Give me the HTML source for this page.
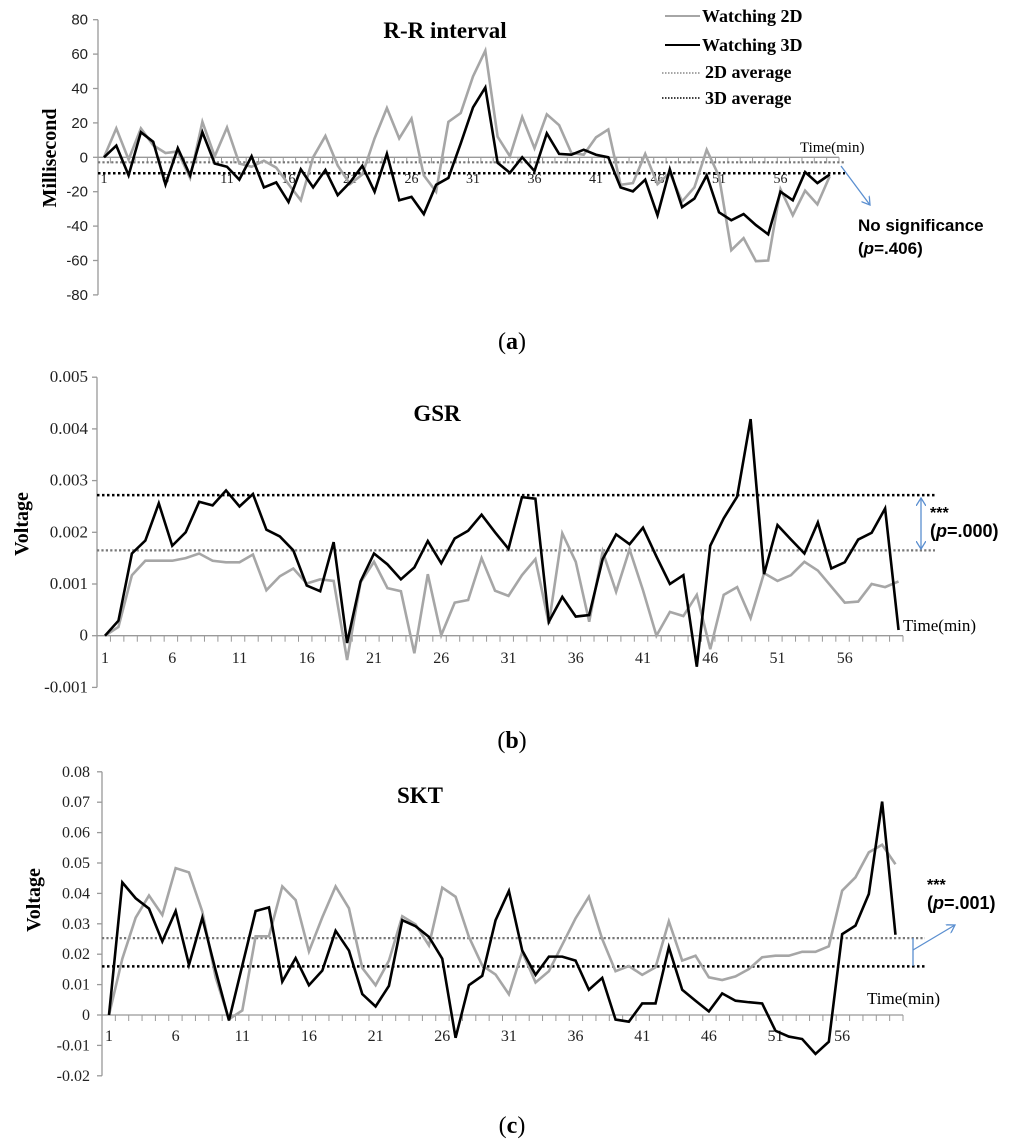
<!DOCTYPE html>
<html><head><meta charset="utf-8"><style>
html,body{margin:0;padding:0;background:#fff;}
svg{display:block;}
text{font-family:"Liberation Serif",serif;}
.sans{font-family:"Liberation Sans",sans-serif;}
</style></head><body>
<svg id="chart" width="1024" height="1148" viewBox="0 0 1024 1148" xmlns="http://www.w3.org/2000/svg"></svg>
<script>
// ---- data ----
const minutes = Array.from({length:60},(_,i)=>i+1);
const xTickLabels = [1,6,11,16,21,26,31,36,41,46,51,56];
const rr2D = [0,16.8,-1.3,16.8,7,2.5,3.4,-12,20.6,0.6,17.3,-3.6,-5.5,-2,-6,-15.6,-25,0,12.4,-4.8,-15.6,-10,11,28.6,11,22.5,-10.5,-20,20.6,25.7,47,62,12,0.6,23.4,5.3,25,18.7,2.5,1.5,11.6,16.2,-16,-15,2,-15.6,-9,-25.7,-17.5,4.4,-11,-54,-47,-60.4,-60,-18.5,-33.7,-19.4,-27.4,-11];
const rr3D = [0,6.8,-10.5,14.6,9,-15.8,5.3,-10.5,14.6,-3.6,-5.5,-13,0.6,-17.5,-14.6,-26,-7,-17.5,-7.4,-22,-14.6,-5,-20,2,-25,-23,-33,-16,-12,8,29,40.6,-3.2,-9,0,-8,13.9,2,1.5,4.4,1.5,0,-17.5,-19.8,-13,-33.7,-7,-29,-24,-10.5,-32,-36.6,-33,-39.4,-44.8,-20,-25,-8.6,-15,-10];
const rrAvg = [-2.9,-9.3];
const rrTicks = [80,60,40,20,0,-20,-40,-60,-80];
const gsr2D = [0,0.00017,0.00117,0.00145,0.00145,0.00145,0.0015,0.00159,0.00145,0.00142,0.00142,0.00157,0.00088,0.00115,0.0013,0.00101,0.00109,0.00106,-0.00047,0.00103,0.00143,0.00092,0.00086,-0.00034,0.00119,0.00001,0.00064,0.00069,0.0015,0.00087,0.00077,0.00117,0.00148,0.00023,0.00198,0.00143,0.00027,0.00163,0.00085,0.00167,0.00088,0,0.00046,0.00038,0.00079,-0.00026,0.00079,0.00094,0.00034,0.00121,0.00106,0.00117,0.00143,0.00126,0.00095,0.00064,0.00066,0.001,0.00094,0.00105];
const gsr3D = [0,0.00029,0.00159,0.00184,0.00256,0.00174,0.002,0.00259,0.00252,0.00281,0.0025,0.00274,0.00205,0.00192,0.00165,0.00097,0.00086,0.00181,-0.00014,0.00105,0.00159,0.00138,0.00109,0.00132,0.00183,0.0014,0.00188,0.00203,0.00234,0.002,0.00168,0.00268,0.00265,0.00027,0.00075,0.00037,0.0004,0.00148,0.00196,0.00177,0.00209,0.00153,0.001,0.00117,-0.0006,0.00174,0.00227,0.00269,0.00419,0.00119,0.00214,0.00186,0.00159,0.00219,0.0013,0.00142,0.00186,0.00199,0.00246,0.00011];
const gsrAvg = [0.00165,0.00272];
const gsrTicks = [0.005,0.004,0.003,0.002,0.001,0,-0.001];
const skt2D = [0,0.0185,0.032,0.0393,0.0329,0.0483,0.0469,0.034,0.0124,-0.0014,0.0015,0.0259,0.0259,0.0423,0.0378,0.0209,0.0321,0.0423,0.0351,0.0155,0.0098,0.0179,0.0325,0.0298,0.0229,0.0419,0.0389,0.0257,0.0163,0.0133,0.0068,0.0208,0.0107,0.0144,0.0231,0.0318,0.0389,0.025,0.0144,0.0161,0.0132,0.0157,0.0308,0.0179,0.0195,0.0124,0.0115,0.0127,0.0151,0.019,0.0195,0.0195,0.0208,0.0208,0.0226,0.0409,0.0453,0.0535,0.056,0.0496];
const skt3D = [0,0.0436,0.0384,0.035,0.0242,0.0342,0.0165,0.032,0.0146,-0.0018,0.0163,0.0342,0.0354,0.011,0.0187,0.0098,0.0146,0.0277,0.0212,0.0069,0.0028,0.0096,0.0312,0.0292,0.0257,0.0185,-0.0075,0.0098,0.0129,0.0312,0.0408,0.0212,0.0132,0.0192,0.0192,0.0179,0.0083,0.0122,-0.0015,-0.0022,0.0038,0.0038,0.0223,0.0083,0.0047,0.0012,0.0071,0.0047,0.0042,0.0038,-0.0052,-0.0071,-0.0079,-0.0128,-0.0088,0.0266,0.0294,0.0398,0.0702,0.0264];
const sktAvg = [0.0253,0.016];
const sktTicks = ["0.08","0.07","0.06","0.05","0.04","0.03","0.02","0.01","0","-0.01","-0.02"];

const NS="http://www.w3.org/2000/svg";
const svg=document.getElementById('chart');
function mk(tag,attrs,parent){const e=document.createElementNS(NS,tag);for(const k in attrs)e.setAttribute(k,attrs[k]);(parent||svg).appendChild(e);return e;}

function panel(p){
  const g=mk('g',{});
  
  
  const xs=i=>p.x0+(i-1)*p.dx;
  const ys=v=>p.yZero-v*p.k;
  const ax=mk('line',{x1:p.ax,y1:ys(p.ticks[0]),x2:p.ax,y2:ys(p.ticks[p.ticks.length-1]),stroke:'#999','stroke-width':1.3},g);
  
  
  p.ticks.forEach(t=>{
    const v=+t;
    mk('line',{x1:p.ax-5,y1:ys(v),x2:p.ax,y2:ys(v),stroke:'#999','stroke-width':1.3},g);
    const tl=mk('text',{x:p.ax-p.tickGap,y:ys(v)+5,'text-anchor':'end','font-size':p.tickFs,fill:'#222',class:p.tickClass},g);
    tl.textContent=String(t);
    
    
  });
  const xa=mk('line',{x1:p.ax,y1:ys(0),x2:p.xEnd,y2:ys(0),stroke:'#999','stroke-width':1.3},g);
  
  
  for(let i=0;i<=minutes.length;i++){
    const tx=p.ax+(p.xEnd-p.ax)*i/minutes.length;
    mk('line',{x1:tx,y1:ys(0),x2:tx,y2:ys(0)+6,stroke:'#999','stroke-width':1},g);
  }
  xTickLabels.forEach(m=>{
    const t=mk('text',{x:xs(m),y:p.xLabY,'text-anchor':'middle','font-size':p.xFs,fill:'#222'},g);
    t.textContent=String(m);
    
    
  });
  const a2=mk('line',{x1:p.ax,y1:ys(p.avg[0]),x2:p.avgEnd,y2:ys(p.avg[0]),stroke:'#777','stroke-width':2.2,'stroke-dasharray':'2.2 2.2'},g);
  
  
  const a3=mk('line',{x1:p.ax,y1:ys(p.avg[1]),x2:p.avgEnd,y2:ys(p.avg[1]),stroke:'#000','stroke-width':2.5,'stroke-dasharray':'2.5 2.5'},g);
  
  
  const l2=mk('polyline',{points:p.s2.map((v,i)=>xs(minutes[i])+','+ys(v)).join(' '),fill:'none',stroke:'#a6a6a6','stroke-width':2.6,'stroke-linejoin':'miter'},g);
  
  
  const l3=mk('polyline',{points:p.s3.map((v,i)=>xs(minutes[i])+','+ys(v)).join(' '),fill:'none',stroke:'#000','stroke-width':2.6,'stroke-linejoin':'miter'},g);
  
  
}

panel({name:'rr-interval-panel',x0:104,dx:12.3,yZero:157.3,k:1.72,ax:98,xEnd:839,avgEnd:845,ticks:rrTicks,avg:rrAvg,s2:rr2D,s3:rr3D,xLabY:183,xFs:14,tickFs:15,tickGap:10,tickClass:'sans'});
panel({name:'gsr-panel',x0:105,dx:13.45,yZero:635.7,k:51700,ax:97,xEnd:903,avgEnd:935,ticks:gsrTicks,avg:gsrAvg,s2:gsr2D,s3:gsr3D,xLabY:663,xFs:16,tickFs:17,tickGap:9,tickClass:''});
panel({name:'skt-panel',x0:109,dx:13.33,yZero:1015,k:3040,ax:102,xEnd:903,avgEnd:925,ticks:sktTicks,avg:sktAvg,s2:skt2D,s3:skt3D,xLabY:1041,xFs:16,tickFs:16,tickGap:12,tickClass:''});
</script>
<svg width="1024" height="1148" style="position:absolute;left:0;top:0" xmlns="http://www.w3.org/2000/svg">
  <defs>
    <marker id="ah" markerWidth="10" markerHeight="10" refX="8" refY="5" orient="auto" markerUnits="userSpaceOnUse"><path d="M0,0 L8,5 L0,10" fill="none" stroke="#5b8fd0" stroke-width="1.3"/></marker>
    <marker id="ahs" markerWidth="10" markerHeight="10" refX="2" refY="5" orient="auto" markerUnits="userSpaceOnUse"><path d="M10,0 L2,5 L10,10" fill="none" stroke="#5b8fd0" stroke-width="1.3"/></marker>
  </defs>
  <text x="445" y="38" text-anchor="middle" font-size="23" font-weight="bold">R-R interval</text>
  <text transform="translate(56,158) rotate(-90)" text-anchor="middle" font-size="20" font-weight="bold">Millisecond</text>
  <text x="800" y="152" font-size="15">Time(min)</text>
  <g font-weight="bold" font-size="18">
    <line x1="665" y1="16" x2="700" y2="16" stroke="#a6a6a6" stroke-width="2"/>
    <text x="702" y="22">Watching 2D</text>
    <line x1="665" y1="45" x2="700" y2="45" stroke="#000" stroke-width="2"/>
    <text x="702" y="51">Watching 3D</text>
    <line x1="662" y1="73" x2="700" y2="73" stroke="#888" stroke-width="1.5" stroke-dasharray="1.5 1.5"/>
    <text x="705" y="78">2D average</text>
    <line x1="662" y1="98" x2="700" y2="98" stroke="#000" stroke-width="1.5" stroke-dasharray="1.5 1.5"/>
    <text x="705" y="104">3D average</text>
  </g>
  <line x1="841" y1="166" x2="870" y2="205" stroke="#5b8fd0" stroke-width="1.3" marker-end="url(#ah)"/>
  <text class="sans" x="858" y="231" font-size="17" font-weight="bold">No significance</text>
  <text class="sans" x="858" y="254" font-size="17" font-weight="bold">(<tspan font-style="italic">p</tspan>=.406)</text>
  <text x="512" y="349" text-anchor="middle" font-size="24">(<tspan font-weight="bold">a</tspan>)</text>

  <text x="437" y="421" text-anchor="middle" font-size="23" font-weight="bold">GSR</text>
  <text transform="translate(28,524) rotate(-90)" text-anchor="middle" font-size="20" font-weight="bold">Voltage</text>
  <text x="903" y="631" font-size="17">Time(min)</text>
  <line x1="921" y1="498" x2="921" y2="549" stroke="#5b8fd0" stroke-width="1.3" marker-end="url(#ah)" marker-start="url(#ahs)"/>
  <text class="sans" x="930" y="518" font-size="16" font-weight="bold">***</text>
  <text class="sans" x="930" y="537" font-size="18" font-weight="bold">(<tspan font-style="italic">p</tspan>=.000)</text>
  <text x="512" y="748" text-anchor="middle" font-size="24">(<tspan font-weight="bold">b</tspan>)</text>

  <text x="420" y="803" text-anchor="middle" font-size="23" font-weight="bold">SKT</text>
  <text transform="translate(40,900) rotate(-90)" text-anchor="middle" font-size="20" font-weight="bold">Voltage</text>
  <text x="867" y="1004" font-size="17">Time(min)</text>
  <line x1="913" y1="938" x2="913" y2="966" stroke="#5b8fd0" stroke-width="1.3"/>
  <line x1="913" y1="950" x2="955" y2="925" stroke="#5b8fd0" stroke-width="1.3" marker-end="url(#ah)"/>
  <text class="sans" x="927" y="890" font-size="16" font-weight="bold">***</text>
  <text class="sans" x="927" y="909" font-size="18" font-weight="bold">(<tspan font-style="italic">p</tspan>=.001)</text>
  <text x="512" y="1133" text-anchor="middle" font-size="24">(<tspan font-weight="bold">c</tspan>)</text>
</svg>
</body></html>
